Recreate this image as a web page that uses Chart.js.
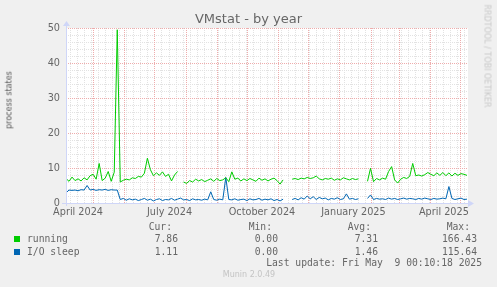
<!DOCTYPE html>
<html>
<head>
<meta charset="utf-8">
<script src="https://cdn.jsdelivr.net/npm/chart.js@4/dist/chart.umd.min.js"></script>
<style>
  body { margin: 0; background: #f0f0f0; }
  #wrap { position: relative; width: 497px; height: 287px; overflow: hidden; }
  #chart { position: absolute; left: 0; top: 0; }
  .t { position: absolute; white-space: pre; color: #666; line-height: 12px; }
  .mono { font-family: "DejaVu Sans Mono", monospace; font-size: 9.7px; }
  .sq { position: absolute; width: 6px; height: 6px; }
</style>
</head>
<body>
<div id="wrap">
  <canvas id="chart" width="497" height="287"></canvas>

  <div class="t" style="left:0;width:497px;top:11px;text-align:center;font:13px 'DejaVu Sans';line-height:15px">VMstat - by year</div>
  <div class="t" style="left:9px;top:100px;transform:translate(-50%,-50%) rotate(-90deg);font:8px 'DejaVu Sans';color:#555">process states</div>
  <div class="t" style="left:487px;top:56px;transform:translate(-50%,-50%) rotate(90deg);font:8px 'DejaVu Sans';color:#c8c8c8">RRDTOOL / TOBI OETIKER</div>

  <div class="t mono" style="right:325px;top:221px">Cur:</div>
  <div class="t mono" style="right:225px;top:221px">Min:</div>
  <div class="t mono" style="right:126px;top:221px">Avg:</div>
  <div class="t mono" style="right:27px;top:221px">Max:</div>

  <div class="sq" style="left:14px;top:236px;background:#00cc00"></div>
  <div class="t mono" style="left:27px;top:233px">running</div>
  <div class="t mono" style="right:319px;top:233px">7.86</div>
  <div class="t mono" style="right:219px;top:233px">0.00</div>
  <div class="t mono" style="right:119px;top:233px">7.31</div>
  <div class="t mono" style="right:20px;top:233px">166.43</div>

  <div class="sq" style="left:14px;top:249px;background:#0066b3"></div>
  <div class="t mono" style="left:27px;top:246px">I/O sleep</div>
  <div class="t mono" style="right:319px;top:246px">1.11</div>
  <div class="t mono" style="right:219px;top:246px">0.00</div>
  <div class="t mono" style="right:119px;top:246px">1.46</div>
  <div class="t mono" style="right:20px;top:246px">115.64</div>

  <div class="t mono" style="right:15px;top:257px">Last update: Fri May  9 00:10:18 2025</div>
  <div class="t" style="left:0;width:498px;top:270px;text-align:center;font:8px 'DejaVu Sans';color:#c4c4c4">Munin 2.0.49</div>
</div>

<script>
// values sampled every 3 days, day 0 = 4 April 2024
const running = [
  7.0, 6.2, 7.4, 6.4, 6.9, 6.3, 7.2, 6.6, 7.8, 8.2,
  6.8, 11.3, 6.4, 7.1, 9.0, 6.2, 8.8, 49.5, 6.0, 6.5,
  6.8, 6.6, 7.2, 7.0, 7.6, 7.4, 8.5, 12.8, 9.5, 7.8,
  8.6, 7.9, 8.9, 7.6, 8.2, 6.3, 8.0, 9.0, null, 6.0,
  5.6, 6.4, 6.0, 6.8, 6.3, 6.7, 6.1, 6.5, 6.9, 6.2,
  7.0, 6.4, 6.6, 7.2, 6.1, 8.9, 6.8, 7.1, 6.3, 6.9,
  6.4, 7.0, 6.6, 6.2, 7.1, 6.5, 6.9, 6.3, 6.8, 7.1,
  6.4, 5.4, 6.6, null, null, 6.8, 7.0, 6.7, 7.1, 6.9,
  7.3, 7.0, 7.2, 7.7, 6.9, 6.6, 7.0, 6.8, 7.1, 6.5,
  6.9, 6.6, 7.2, 6.9, 6.6, 7.0, 6.7, 6.9, null, null,
  6.2, 9.9, 6.1, 7.0, 6.6, 7.1, 6.8, 9.0, 10.4, 6.6,
  5.7, 6.8, 7.3, 7.0, 7.6, 11.3, 7.8, 8.0, 7.7, 8.1,
  8.7, 8.2, 7.8, 8.6, 7.9, 8.7, 7.8, 8.6, 7.7, 8.5,
  7.9, 8.4, 8.2, 7.9
]
const ioSleep = [
  2.9, 3.7, 3.6, 3.7, 3.5, 3.8, 3.7, 5.0, 3.7, 3.9,
  3.6, 3.8, 3.7, 3.9, 3.6, 3.8, 3.7, 3.7, 1.0, 1.3,
  0.8, 1.2, 0.9, 1.1, 0.7, 1.0, 1.3, 0.8, 1.1, 0.6,
  1.0, 1.2, 0.7, 1.0, 0.9, 1.3, 0.8, 1.1, 1.4, 0.9,
  1.0, 0.7, 1.2, 0.9, 1.0, 0.8, 1.1, 0.9, 3.2, 1.0,
  0.8, 1.1, 0.9, 7.3, 1.0, 0.9, 1.2, 0.8, 1.0, 1.1,
  0.7, 1.2, 0.9, 1.0, 1.3, 0.8, 1.1, 0.9, 1.2, 0.7,
  1.0, 0.6, 1.1, null, null, 1.0, 1.3, 0.9, 1.5, 1.1,
  2.0, 1.2, 1.8, 1.0, 1.6, 1.2, 1.4, 0.9, 1.3, 1.1,
  1.5, 1.0, 1.2, 2.6, 1.1, 1.3, 1.0, 1.2, null, null,
  1.3, 2.3, 1.0, 1.3, 1.1, 1.2, 1.0, 1.4, 1.1, 1.3,
  1.0, 1.2, 1.4, 1.1, 1.3, 1.2, 1.0, 1.3, 1.1, 1.4,
  1.2, 1.0, 1.3, 1.1, 1.2, 1.4, 1.2, 4.7, 1.3, 1.0,
  1.2, 1.4, 1.0, 1.1
]
const days = running.map((_, i) => i * 3)

// x axis labels sit mid-month, grid lines at month starts
const tickDays = [12, 103, 195, 286, 376]
const tickLabels = ["April 2024", "July 2024", "October 2024", "January 2025", "April 2025"]
const monthStarts = [27, 58, 88, 119, 150, 180, 211, 241, 272, 303, 331, 362, 392]

const axisColor = "#cfd6f8"

const munin = {
  id: "munin",
  beforeDraw(chart) {
    const { ctx, chartArea: a } = chart
    ctx.save()
    ctx.fillStyle = "#ffffff"
    ctx.fillRect(a.left, a.top, a.right - a.left, a.bottom - a.top)
    ctx.restore()
  },
  beforeDatasetsDraw(chart) {
    const { ctx, chartArea: a, scales: { x, y } } = chart
    const hline = (p) => {
      p = Math.round(p) + 0.5
      ctx.beginPath(); ctx.moveTo(a.left, p); ctx.lineTo(a.right, p); ctx.stroke()
    }
    const vline = (p) => {
      p = Math.round(p) + 0.5
      ctx.beginPath(); ctx.moveTo(p, a.top); ctx.lineTo(p, a.bottom); ctx.stroke()
    }
    ctx.save()
    ctx.lineWidth = 1
    ctx.setLineDash([1, 1])
    // minor grid: every 2 units, weekly
    ctx.strokeStyle = "#e2e2e2"
    for (let v = 2; v < 50; v += 2) if (v % 10) hline(y.getPixelForValue(v))
    for (let d = 4; d < 400; d += 7) vline(x.getPixelForValue(d))
    // major grid: every 10 units, monthly
    ctx.strokeStyle = "#eeacac"
    for (let v = 10; v <= 50; v += 10) hline(y.getPixelForValue(v))
    monthStarts.forEach((d) => vline(x.getPixelForValue(d)))
    ctx.restore()
  },
  afterDatasetsDraw(chart) {
    const { ctx, chartArea: a } = chart
    const x0 = Math.round(a.left) + 0.5
    const y0 = Math.round(a.bottom) + 0.5
    ctx.save()
    ctx.strokeStyle = axisColor
    ctx.fillStyle = axisColor
    ctx.lineWidth = 1
    ctx.beginPath()
    ctx.moveTo(a.left - 4, y0); ctx.lineTo(a.right + 1, y0)
    ctx.moveTo(x0, a.bottom + 3); ctx.lineTo(x0, a.top - 2)
    ctx.stroke()
    // arrows
    ctx.beginPath()
    ctx.moveTo(a.right + 6, y0); ctx.lineTo(a.right, y0 - 3.5); ctx.lineTo(a.right, y0 + 3.5)
    ctx.closePath(); ctx.fill()
    ctx.beginPath()
    ctx.moveTo(x0, a.top - 7); ctx.lineTo(x0 - 3.5, a.top - 2); ctx.lineTo(x0 + 3.5, a.top - 2)
    ctx.closePath(); ctx.fill()
    ctx.restore()
  }
}

new Chart(document.getElementById("chart"), {
  type: "line",
  data: {
    datasets: [
      {
        label: "running",
        data: days.map((d, i) => ({ x: d, y: running[i] })),
        borderColor: "#00cc00",
        borderWidth: 1,
        pointRadius: 0,
        spanGaps: false,
      },
      {
        label: "I/O sleep",
        data: days.map((d, i) => ({ x: d, y: ioSleep[i] })),
        borderColor: "#0066b3",
        borderWidth: 1,
        pointRadius: 0,
        spanGaps: false,
      },
    ],
  },
  options: {
    responsive: false,
    animation: false,
    devicePixelRatio: 1,
    layout: { padding: { left: 0, right: 29, top: 28, bottom: 0 } },
    plugins: { legend: { display: false }, tooltip: { enabled: false } },
    scales: {
      x: {
        type: "linear",
        min: 0,
        max: 400,
        afterFit: (s) => { s.height = 84 },
        afterBuildTicks: (s) => { s.ticks = tickDays.map((v) => ({ value: v })) },
        grid: { display: false, drawTicks: false },
        border: { display: false },
        ticks: {
          padding: 4,
          maxRotation: 0,
          autoSkip: false,
          color: "#666",
          font: { family: "DejaVu Sans", size: 9.7 },
          callback: (v) => tickLabels[tickDays.indexOf(v)],
        },
      },
      y: {
        min: 0,
        max: 50,
        afterFit: (s) => { s.width = 66 },
        grid: { display: false, drawTicks: false },
        border: { display: false },
        ticks: {
          stepSize: 10,
          padding: 6,
          color: "#666",
          font: { family: "DejaVu Sans", size: 9.7 },
        },
      },
    },
  },
  plugins: [munin],
})
</script>
</body>
</html>
